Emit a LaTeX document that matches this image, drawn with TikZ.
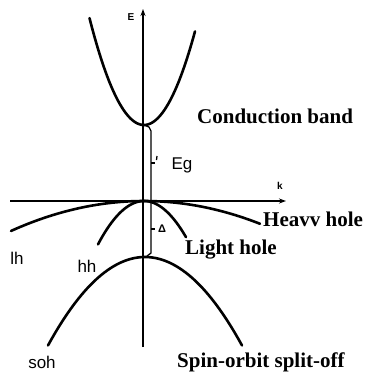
\documentclass[tikz,border=0pt]{standalone}
\usepackage{fontspec}
\setmainfont{Liberation Serif}
\newfontfamily\lsans{Liberation Sans}
\usetikzlibrary{arrows.meta}
\tikzset{
  band/.style={line width=2.6pt, line cap=round},
  axis/.style={line width=1.6pt, -{Stealth[length=7pt,width=5pt]}},
  brack/.style={line width=1.3pt},
  biglabel/.style={font=\fontsize{21}{24}\selectfont\bfseries, inner sep=0pt, anchor=west},
  smalllabel/.style={font=\lsans\fontsize{17}{20}\selectfont, inner sep=0pt},
  axlabel/.style={font=\lsans\fontsize{10}{12}\selectfont\bfseries, inner sep=0pt}
}
\begin{document}
\begin{tikzpicture}[x=1pt,y=-1pt]
\useasboundingbox (0,0) rectangle (366,376);
% axes
\coordinate (eb) at (143,347);
\coordinate (et) at (143,9);
\coordinate (kl) at (10,201);
\coordinate (kr) at (286,201);
\draw[axis] (eb) -- (et);
\draw[axis] (kl) -- (kr);
\node[axlabel] (E) at (131,17) {E};
\node[axlabel] (k) at (280,186) {k};
% bands
\draw[band] plot[domain=89.5:195,samples=60,smooth] (\x,{125-0.036*(\x-144)*(\x-144)});
\draw[band] plot[domain=11:260,samples=60,smooth] (\x,{201+0.0017*(\x-144)*(\x-144)});
\draw[band] plot[domain=98:186,samples=60,smooth] (\x,{201+0.0205*(\x-144)*(\x-144)});
\draw[band] plot[domain=48:242,samples=60,smooth] (\x,{257+0.0094*(\x-145)*(\x-145)});
% brackets
\draw[brack] (144,125) -- (149,127) -- (151,131) -- (151,253) -- (147,256);
\draw[brack] (151,163) -- (155,163);
\draw[brack] (157,156) -- (156.5,160);
\draw[brack] (151,229) -- (155,229);
% labels
\node[smalllabel] (eg) at (182,165) {Eg};
\node[axlabel, font=\lsans\fontsize{11}{12}\selectfont\bfseries] (delta) at (162,229) {Δ};
\node[biglabel] (cb) at (197,116) {Conduction band};
\node[biglabel] (hh) at (263,219) {Heavv hole};
\node[biglabel] (lhl) at (185,250) {Light hole};
\node[biglabel] (so) at (177,362) {Spin-orbit split-off};
\node[smalllabel] (lh) at (17,258) {lh};
\node[smalllabel] (hhs) at (87,266) {hh};
\node[smalllabel] (soh) at (42,362) {soh};
\end{tikzpicture}
\end{document}
